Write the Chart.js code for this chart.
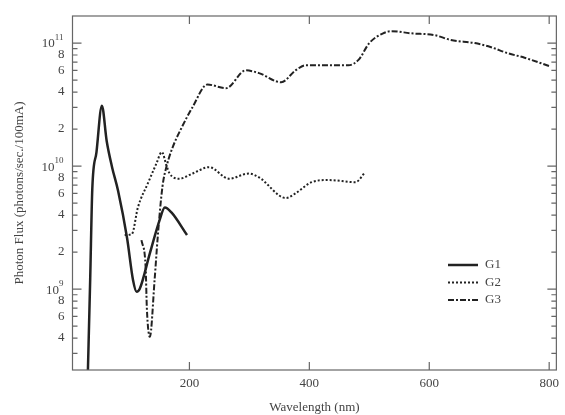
<!DOCTYPE html>
<html>
<head>
<meta charset="utf-8">
<script src="https://cdn.jsdelivr.net/npm/chart.js@4"></script>
<style>
body { margin: 0; background: #fff; }
#wrap { width: 565px; height: 415px; }
</style>
</head>
<body>
<div id="wrap"><canvas id="myChart"></canvas></div>
<script>
// values (wavelength in nm, flux in photons/sec./100mA)
let g1Wavelength = [30.5, 34.5, 38, 45, 54, 62, 71, 81, 96, 106, 112, 117, 134, 150, 159, 170, 196];
let g1Flux = [2.0e8, 1.2e9, 6.5e9, 1.3e10, 3.1e10, 1.6e10, 9.8e9, 6.3e9, 2.6e9, 1.18e9, 9.5e8, 1.0e9, 1.95e9, 3.6e9, 4.6e9, 4.2e9, 2.75e9];

let g2Wavelength = [92, 104, 114, 131, 145, 154, 162, 167, 183, 205, 233, 266, 299, 316, 361, 377, 404, 432, 477, 493];
let g2Flux = [2.75e9, 2.8e9, 4.6e9, 7.3e9, 1.05e10, 1.3e10, 1.0e10, 8.7e9, 7.9e9, 8.7e9, 9.8e9, 7.9e9, 8.7e9, 8.1e9, 5.5e9, 6.0e9, 7.4e9, 7.7e9, 7.4e9, 8.9e9];

let g3Wavelength = [120, 127, 129, 134, 142, 147, 155, 162, 172, 188, 205, 230, 261, 294, 316, 353, 377, 394, 465, 482, 500, 523, 537, 570, 609, 636, 676, 702, 730, 759, 800];
let g3Flux = [2.5e9, 1.5e9, 7e8, 4.1e8, 1.2e9, 2.6e9, 6.8e9, 1.0e10, 1.42e10, 2.1e10, 3.0e10, 4.6e10, 4.3e10, 6.0e10, 5.7e10, 4.8e10, 6.0e10, 6.6e10, 6.6e10, 7.3e10, 1.0e11, 1.2e11, 1.25e11, 1.2e11, 1.16e11, 1.06e11, 1.0e11, 9.3e10, 8.3e10, 7.6e10, 6.5e10];

let seriesNames = ['G1', 'G2', 'G3'];
let xTicks = [200, 400, 600, 800];

let fontFamily = '"Liberation Serif", serif';
let font = { family: fontFamily, size: 13 };
let textColor = '#444';
let lineColor = '#222';

function points(xs, ys) {
    return xs.map((x, i) => ({ x: x, y: ys[i] }));
}

function mantissa(v) {
    let e = Math.floor(Math.log10(v) + 1e-9);
    return { m: v / Math.pow(10, e), e: e };
}

function isWhole(m) {
    return Math.abs(m - Math.round(m)) < 1e-6;
}

// box around the plot with inward tick marks on every side, plus 10^n labels
let frame = {
    id: 'frame',
    afterDatasetsDraw(chart) {
        let c = chart.ctx, a = chart.chartArea;
        let xs = chart.scales.x, ys = chart.scales.y;
        c.save();
        c.strokeStyle = '#666';
        c.lineWidth = 1.2;
        c.strokeRect(a.left, a.top, a.right - a.left, a.bottom - a.top);
        c.beginPath();
        xTicks.forEach(v => {
            let px = xs.getPixelForValue(v);
            c.moveTo(px, a.bottom); c.lineTo(px, a.bottom - 8);
            c.moveTo(px, a.top); c.lineTo(px, a.top + 8);
        });
        ys.ticks.forEach(t => {
            let mm = mantissa(t.value);
            if (!isWhole(mm.m)) return;
            let len = Math.round(mm.m) === 1 ? 9 : 5;
            let py = ys.getPixelForValue(t.value);
            c.moveTo(a.left, py); c.lineTo(a.left + len, py);
            c.moveTo(a.right, py); c.lineTo(a.right - len, py);
        });
        c.stroke();

        // decade labels with a raised exponent
        c.fillStyle = textColor;
        c.textBaseline = 'middle';
        ys.ticks.forEach(t => {
            let mm = mantissa(t.value);
            if (!isWhole(mm.m) || Math.round(mm.m) !== 1) return;
            let py = ys.getPixelForValue(t.value);
            let expText = String(mm.e);
            c.font = '9px ' + fontFamily;
            let ew = c.measureText(expText).width;
            c.textAlign = 'left';
            let right = a.left - 9;
            c.fillText(expText, right - ew, py - 5);
            c.font = '13px ' + fontFamily;
            c.textAlign = 'right';
            c.fillText('10', right - ew, py + 1);
        });
        c.restore();
    }
};

let legendBox = {
    id: 'legendBox',
    afterDraw(chart) {
        let c = chart.ctx;
        c.save();
        c.font = font.size + 'px ' + font.family;
        c.textBaseline = 'middle';
        chart.data.datasets.forEach((ds, i) => {
            let y = 265 + i * 17.5;
            c.strokeStyle = ds.borderColor;
            c.lineWidth = ds.borderWidth;
            c.setLineDash(ds.borderDash || []);
            c.beginPath();
            c.moveTo(448, y); c.lineTo(478, y);
            c.stroke();
            c.setLineDash([]);
            c.fillStyle = textColor;
            c.fillText(ds.label, 485, y);
        });
        c.restore();
    }
};

let ctx = document.getElementById('myChart').getContext('2d');

let chart = new Chart(ctx, {
    type: 'line',
    data: {
        datasets: [{
            label: seriesNames[0],
            data: points(g1Wavelength, g1Flux),
            borderColor: lineColor,
            borderWidth: 2.5,
            borderDash: []
        }, {
            label: seriesNames[1],
            data: points(g2Wavelength, g2Flux),
            borderColor: lineColor,
            borderWidth: 2,
            borderDash: [2, 2]
        }, {
            label: seriesNames[2],
            data: points(g3Wavelength, g3Flux),
            borderColor: lineColor,
            borderWidth: 2,
            borderDash: [6, 2, 2, 2]
        }]
    },
    options: {
        responsive: true,
        maintainAspectRatio: false,
        animation: false,
        layout: { padding: { top: 16, right: 5, left: 0, bottom: 0 } },
        elements: {
            point: { radius: 0 },
            line: { cubicInterpolationMode: 'monotone', fill: false }
        },
        plugins: {
            legend: { display: false },
            tooltip: { enabled: false }
        },
        scales: {
            x: {
                type: 'linear',
                min: 5,
                max: 812,
                afterBuildTicks: axis => { axis.ticks = xTicks.map(v => ({ value: v })); },
                afterFit: axis => { axis.height = 45; },
                grid: { display: false, drawTicks: false },
                border: { display: false },
                ticks: { font: font, color: textColor, padding: 6 },
                title: { display: true, text: 'Wavelength (nm)', font: font, color: textColor, padding: { top: 4, bottom: 0 } }
            },
            y: {
                type: 'logarithmic',
                min: 2.2e8,
                max: 1.66e11,
                afterFit: axis => { axis.width = 72.5; },
                grid: { display: false, drawTicks: false },
                border: { display: false },
                ticks: {
                    font: font,
                    color: textColor,
                    padding: 8,
                    autoSkip: false,
                    callback: function (value) {
                        let mm = mantissa(value);
                        if (!isWhole(mm.m)) return '';
                        let m = Math.round(mm.m);
                        if (m !== 1 && m % 2 === 0) return String(m);
                        return '';
                    }
                },
                title: { display: true, text: 'Photon Flux (photons/sec./100mA)', font: font, color: textColor, padding: { top: 12, bottom: 4 } }
            }
        }
    },
    plugins: [frame, legendBox]
});
</script>
</body>
</html>
